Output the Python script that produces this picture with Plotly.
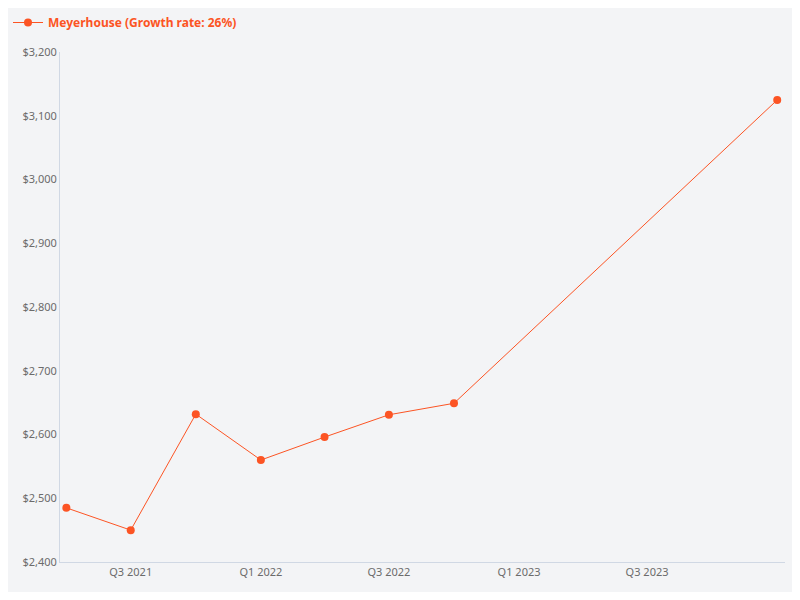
import plotly.graph_objects as go

# Quarterly values
quarters = ['2021-04-01', '2021-07-01', '2021-10-01', '2022-01-01',
            '2022-04-01', '2022-07-01', '2022-10-01', '2024-01-01']
values = [2485, 2450, 2632, 2560, 2596, 2631, 2649, 3125]

tick_vals = ['2021-07-01', '2022-01-01', '2022-07-01', '2023-01-01', '2023-07-01', '2024-01-01']
tick_text = ['Q3 2021', 'Q1 2022', 'Q3 2022', 'Q1 2023', 'Q3 2023', 'Q1 2024']

color = '#fc5424'
bg = '#f3f4f6'

fig = go.Figure(go.Scatter(
    x=quarters, y=values,
    mode='lines+markers',
    name='<b>Meyerhouse (Growth rate: 26%)</b>',
    line=dict(color=color, width=1),
    marker=dict(color=color, size=8),
))

fig.update_layout(
    width=784, height=584,
    paper_bgcolor=bg, plot_bgcolor=bg,
    font=dict(family='Noto Sans', size=11, color='#6b6b6b'),
    margin=dict(l=52, r=7, t=43, b=30),
    showlegend=True,
    legend=dict(x=0, y=1, xref='container', yref='container', xanchor='left', yanchor='top',
                orientation='h', font=dict(color=color, size=12),
                bgcolor='rgba(0,0,0,0)'),
    xaxis=dict(range=['2021-03-23', '2024-01-12'], tickvals=tick_vals, ticktext=tick_text,
               showgrid=False, zeroline=False, showline=True, linecolor='#d0d8e4',
               ticks='', ticklen=0),
    yaxis=dict(range=[2400, 3200], dtick=100, tickprefix='$', tickformat=',',
               showgrid=False, zeroline=False, showline=True, linecolor='#d0d8e4'),
)

fig.write_html('out.html')
